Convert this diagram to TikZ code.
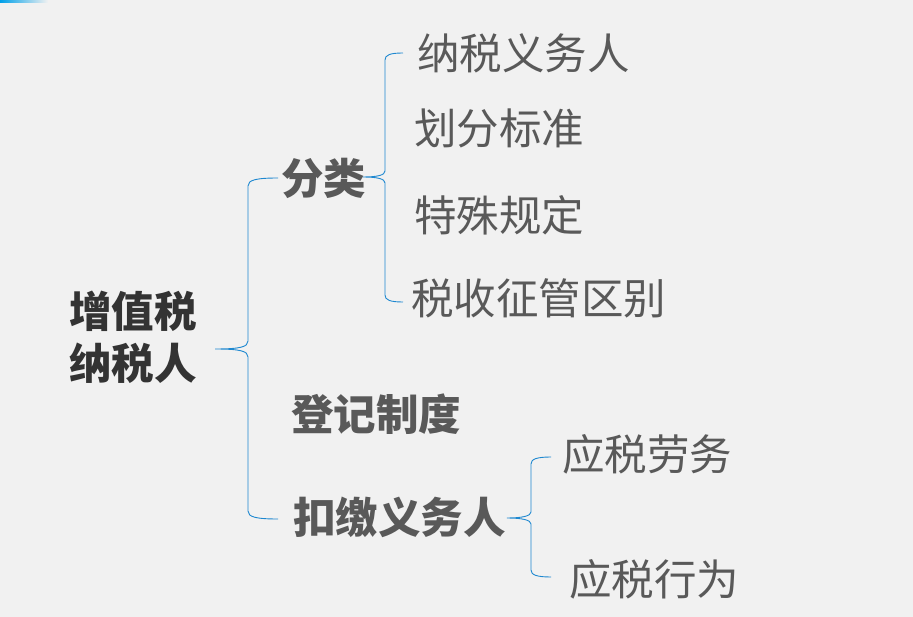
\documentclass[tikz,border=0pt]{standalone}
\usepackage{fontspec}
\newfontfamily\cjk{Noto Sans CJK SC}
\begin{document}
\begin{tikzpicture}[x=1pt,y=-1pt,
  lbl/.style={inner sep=0pt, anchor=base west, font=\cjk\fontsize{42.5}{52}\selectfont, text=black!65},
  bold/.style={lbl, font=\cjk\bfseries\fontsize{42.5}{52}\selectfont},
  brace/.style={draw=brcol, line width=0.9pt}]
\definecolor{bg}{HTML}{F1F1F1}
\definecolor{brcol}{HTML}{1E88D0}
\definecolor{topblue}{HTML}{00A0E9}
\fill[bg] (0,0) rectangle (913,617);
\useasboundingbox (0,0) rectangle (913,617);
\shade[left color=topblue, right color=bg] (0,0) rectangle (48,2.2);

% root
\node[bold, text=black!80, align=left, anchor=base west] (root) at (69,380) {增值税\\纳税人};

% level 1
\node[bold] (fenlei) at (281,195) {分类};
\node[bold] (dengji) at (291,430) {登记制度};
\node[bold] (koujiao) at (293,533) {扣缴义务人};

% level 2
\node[lbl] (a1) at (417,70) {纳税义务人};
\node[lbl] (a2) at (414,145) {划分标准};
\node[lbl] (a3) at (414,232) {特殊规定};
\node[lbl] (a4) at (411,315) {税收征管区别};
\node[lbl] (b1) at (562,470) {应税劳务};
\node[lbl] (b2) at (569,595) {应税行为};

% brace coordinates
\coordinate (t0) at (215,349);
\coordinate (t0a) at (278,178);
\coordinate (t0b) at (278,519);
\coordinate (t1) at (363,177);
\coordinate (t1a) at (403,53);
\coordinate (t1b) at (403,302);
\coordinate (t2) at (507,518);
\coordinate (t2a) at (551,457);
\coordinate (t2b) at (551,577);

\draw[brace] (t0a) .. controls (256,178) and (248,180) .. (248,186) -- (248,341)
  .. controls (248,347) and (240,349) .. (t0)
  .. controls (240,349) and (248,351) .. (248,357) -- (248,511)
  .. controls (248,517) and (256,519) .. (t0b);
\draw[brace] (t1a) .. controls (390,53) and (385,55) .. (385,60) -- (385,171)
  .. controls (385,175) and (378,177) .. (t1)
  .. controls (378,177) and (385,179) .. (385,183) -- (385,295)
  .. controls (385,300) and (390,302) .. (t1b);
\draw[brace] (t2a) .. controls (537,457) and (531,459) .. (531,464) -- (531,512)
  .. controls (531,516) and (522,518) .. (t2)
  .. controls (522,518) and (531,520) .. (531,524) -- (531,570)
  .. controls (531,575) and (537,577) .. (t2b);
\end{tikzpicture}
\end{document}
